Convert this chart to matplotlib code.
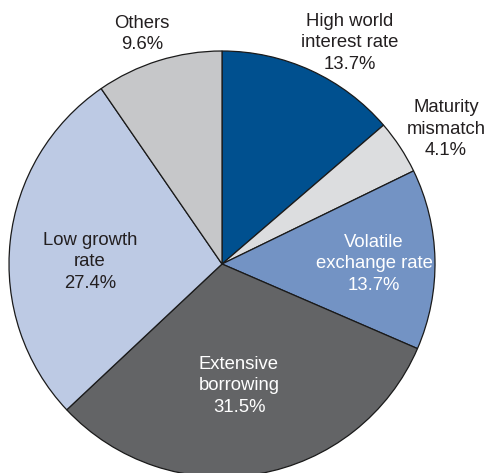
import matplotlib
matplotlib.use("Agg")
import matplotlib.pyplot as plt

# Causes of debt crises, share of cases (%)
labels = ["High world\ninterest rate", "Maturity\nmismatch", "Volatile\nexchange rate",
          "Extensive\nborrowing", "Low growth\nrate", "Others"]
shares = [13.7, 4.1, 13.7, 31.5, 27.4, 9.6]
colors = ["#00508f", "#dcdddf", "#7393c4", "#636466", "#bdcae4", "#c6c7c9"]
text_colors = ["#231f20", "#231f20", "white", "white", "#231f20", "#231f20"]

W, H = 487, 473
fig = plt.figure(figsize=(W / 100, H / 100), dpi=100)
ax = fig.add_axes([0, 0, 1, 1])

cx, cy, r = 222, H - 264, 213
ax.pie(shares, colors=colors, startangle=90, counterclock=False,
       center=(cx, cy), radius=r, frame=True,
       wedgeprops=dict(edgecolor="#1a1a1a", linewidth=0.9))
ax.set_xlim(0, W)
ax.set_ylim(0, H)
ax.set_aspect("equal")
ax.axis("off")

# label anchor points (pixel coordinates from the top-left)
label_pos = [(350, 43), (446, 129), (374, 264), (239, 386), (90, 262), (142, 34)]
for lab, val, (x, y), tc in zip(labels, shares, label_pos, text_colors):
    ax.text(x, H - y, f"{lab}\n{val:.1f}%", ha="center", va="center",
            fontsize=13.3, color=tc, linespacing=1.36, family="Liberation Sans")

fig.savefig("out.png", dpi=100)
